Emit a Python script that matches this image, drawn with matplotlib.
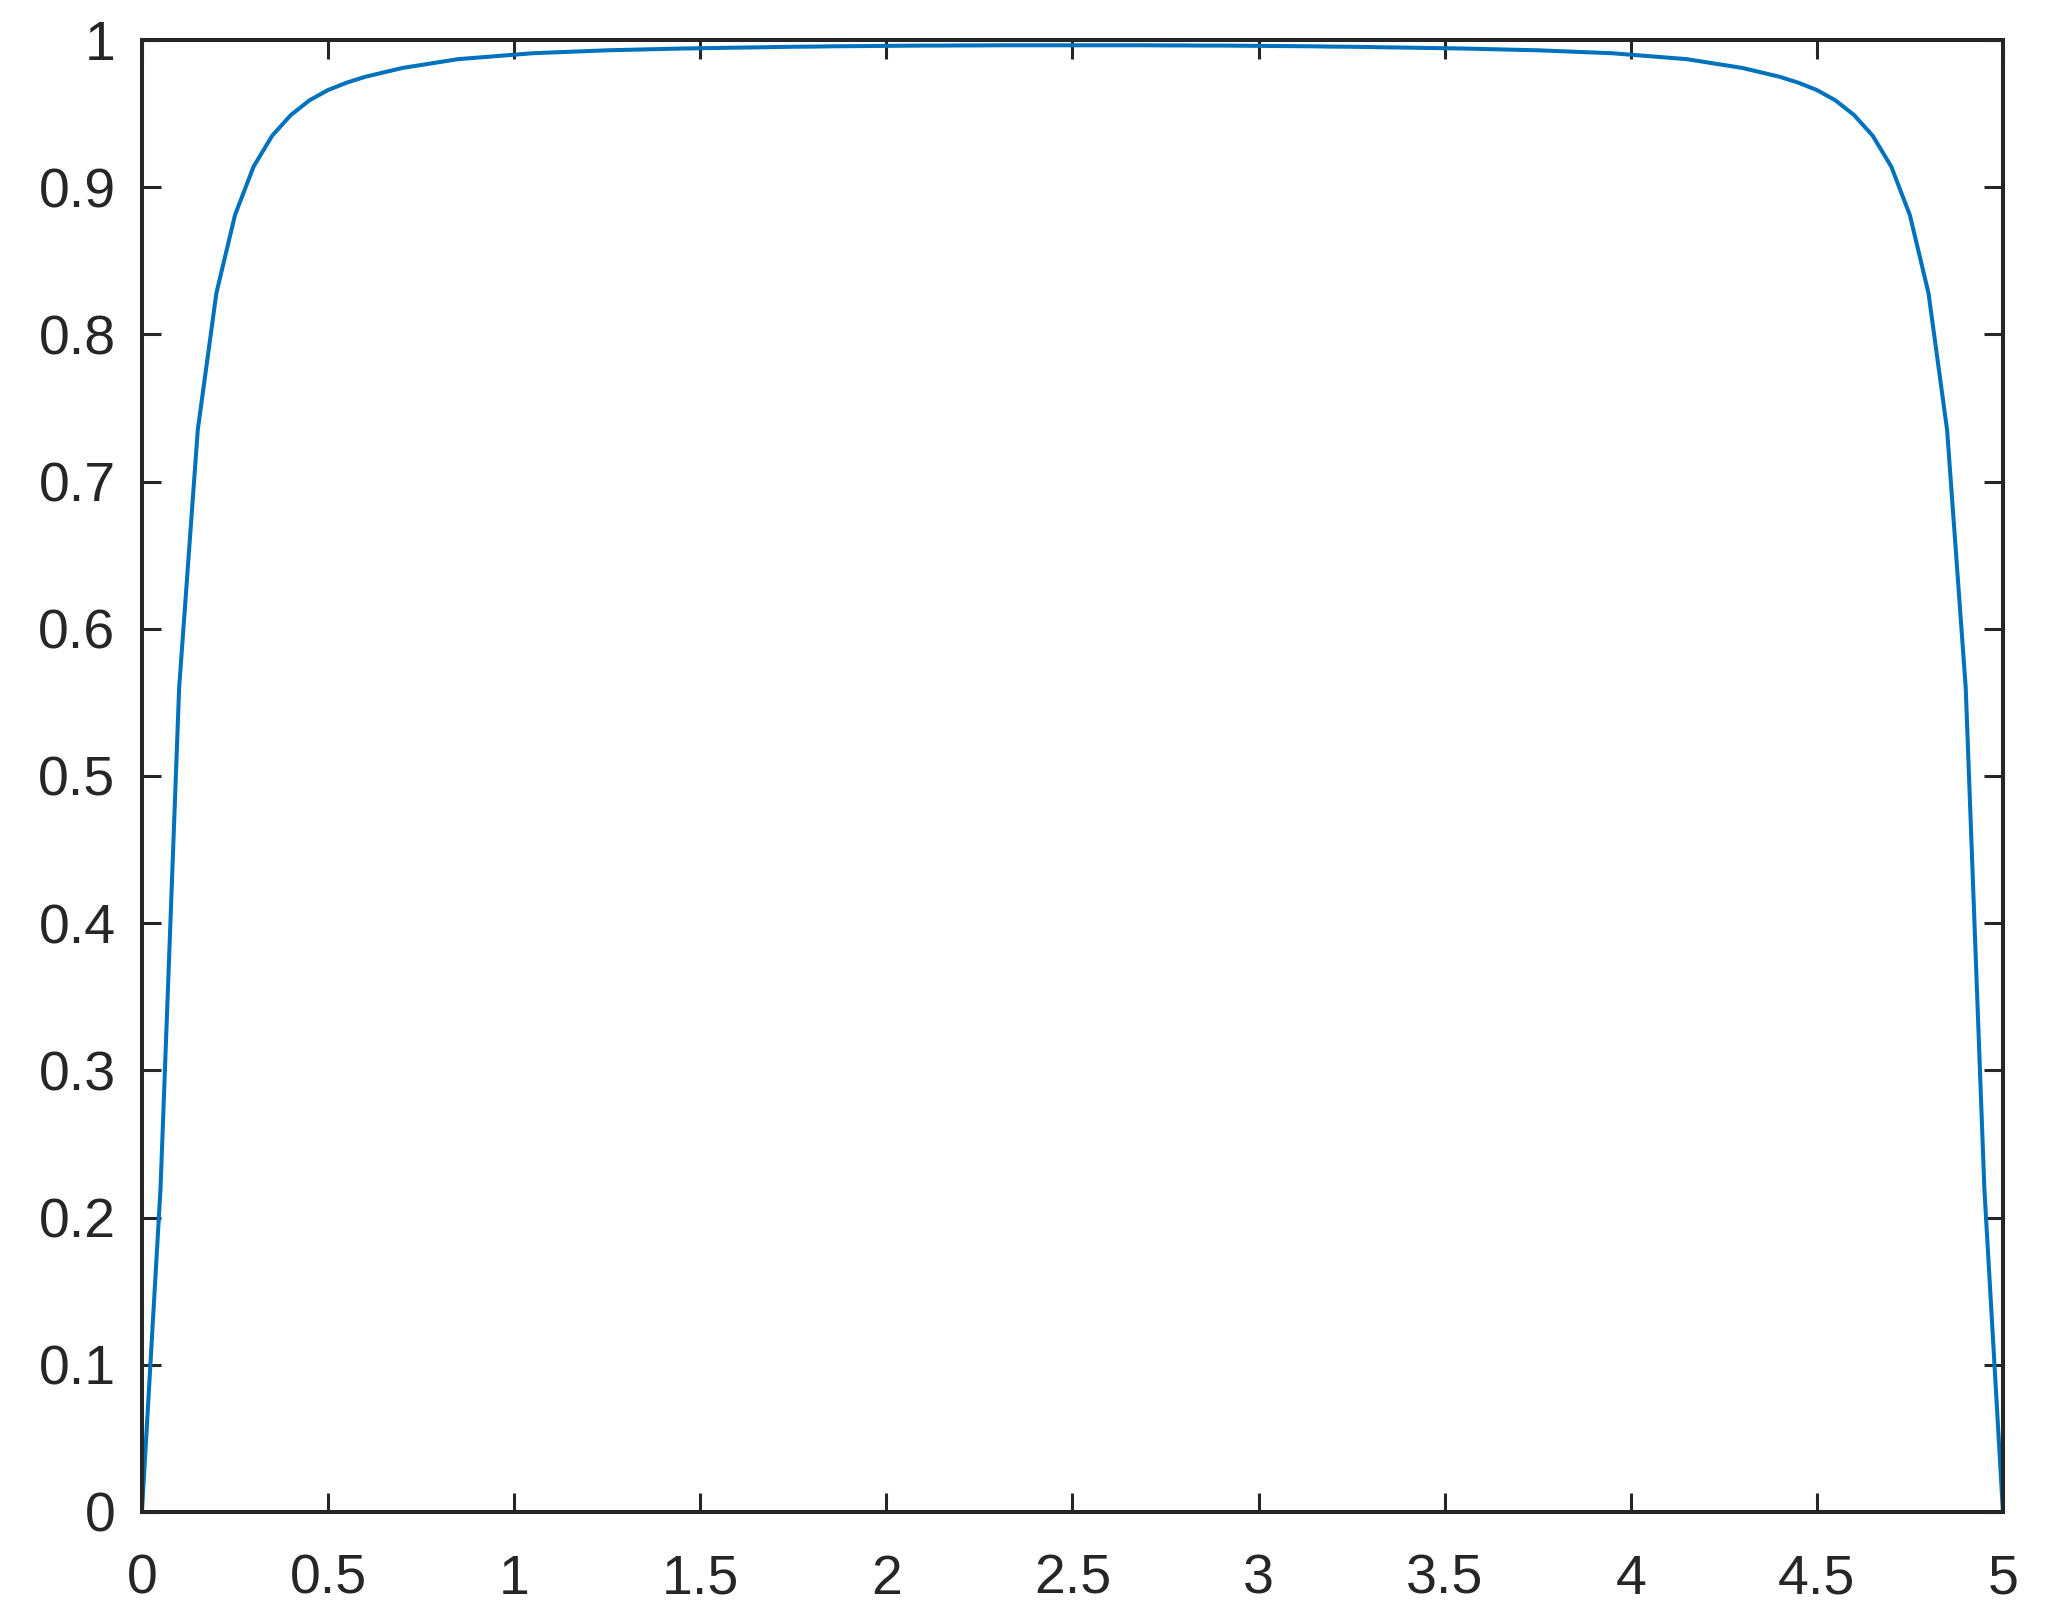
import numpy as np
import matplotlib
matplotlib.use("Agg")
import matplotlib.pyplot as plt

# sample positions along x (step 0.05 from 0 to 5)
x = np.linspace(0, 5, 101)

# values, left to right
y = [0.0, 0.22, 0.56, 0.735, 0.828, 0.881, 0.914, 0.935, 0.949, 0.959,
     0.966, 0.971, 0.975, 0.978, 0.981, 0.983, 0.985, 0.987, 0.988, 0.989,
     0.990, 0.991, 0.9915, 0.992, 0.9925, 0.993, 0.9933, 0.9936, 0.9939, 0.9942,
     0.9944, 0.9946, 0.9948, 0.995, 0.9952, 0.9954, 0.9955, 0.9957, 0.9958, 0.9959,
     0.996, 0.9961, 0.9962, 0.9962, 0.9963, 0.9963, 0.9964, 0.9964, 0.9964, 0.9964,
     0.9964,
     0.9964, 0.9964, 0.9964, 0.9964, 0.9963, 0.9963, 0.9962, 0.9962, 0.9961, 0.996,
     0.9959, 0.9958, 0.9957, 0.9955, 0.9954, 0.9952, 0.995, 0.9948, 0.9946, 0.9944,
     0.9942, 0.9939, 0.9936, 0.9933, 0.993, 0.9925, 0.992, 0.9915, 0.991, 0.990,
     0.989, 0.988, 0.987, 0.985, 0.983, 0.981, 0.978, 0.975, 0.971, 0.966,
     0.959, 0.949, 0.935, 0.914, 0.881, 0.828, 0.735, 0.56, 0.22, 0.0]

xticks = [0, 0.5, 1, 1.5, 2, 2.5, 3, 3.5, 4, 4.5, 5]
xticklabels = ["0", "0.5", "1", "1.5", "2", "2.5", "3", "3.5", "4", "4.5", "5"]
yticks = [0, 0.1, 0.2, 0.3, 0.4, 0.5, 0.6, 0.7, 0.8, 0.9, 1]
yticklabels = ["0", "0.1", "0.2", "0.3", "0.4", "0.5", "0.6", "0.7", "0.8", "0.9", "1"]

dark = "#262626"
plt.rcParams["font.family"] = ["Liberation Sans", "DejaVu Sans"]

fig = plt.figure(figsize=(20.48, 16.19), dpi=100)
ax = fig.add_axes([0.0693, 0.0661, 0.9087, 0.9092])
ax.plot(x, y, color="#0072BD", linewidth=2.9)

ax.set_xlim(0, 5)
ax.set_ylim(0, 1)
ax.set_xticks(xticks)
ax.set_xticklabels(xticklabels)
ax.set_yticks(yticks)
ax.set_yticklabels(yticklabels)

for s in ax.spines.values():
    s.set_linewidth(2.9)
    s.set_color(dark)
ax.tick_params(direction="in", length=14, width=2.2, color=dark,
               top=True, right=True, labelsize=40, labelcolor=dark)
ax.tick_params(axis="x", pad=30)
ax.tick_params(axis="y", pad=19)

fig.savefig("out.png", dpi=100)
